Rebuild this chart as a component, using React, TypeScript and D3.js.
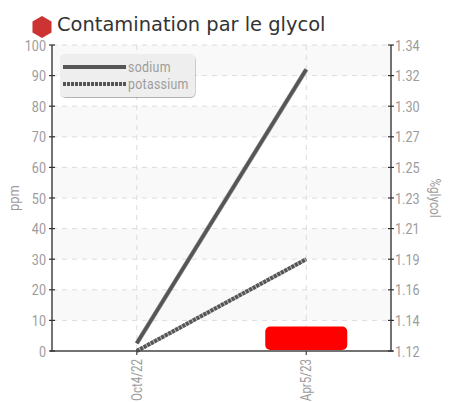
import React from "react";
import * as d3 from "d3";

const title = "Contamination par le glycol";
const dates = ["Oct4/22", "Apr5/23"];
const sodium = [2.5, 92];
const potassium = [0, 30];
const redBarTop = 8;
const redBarBottom = 0.3;
const leftTicks = [0, 10, 20, 30, 40, 50, 60, 70, 80, 90, 100];
const rightTicks = ["1.12", "1.14", "1.16", "1.19", "1.21", "1.23", "1.25", "1.27", "1.30", "1.32", "1.34"];
const yLabel = "ppm";
const y2Label = "%glycol";

const W = 458, H = 402;
const L = 52, R = 391, T = 45, B = 351;
const cf = "Roboto, sans-serif";
const tc = "#9c9c9c";

function Cond({ x, y, size, anchor, rotate, sx = 0.8, ls = 0, children }: any) {
  const t = rotate ? `translate(${x},${y}) rotate(${rotate}) scale(${sx},1)` : `translate(${x},${y}) scale(${sx},1)`;
  return <text transform={t} fontFamily={cf} fontSize={size} fill={tc} textAnchor={anchor} letterSpacing={ls}>{children}</text>;
}

export default function App() {
  const x = d3.scalePoint<string>().domain(dates).range([L, R]).padding(0.5);
  const y = d3.scaleLinear().domain([0, 100]).range([B, T]);
  const line = d3.line<number>().x((_, i) => x(dates[i])!).y(d => y(d));
  const bands = leftTicks.slice(0, -1).filter((_, i) => i % 2 === 1);
  const ax = x(dates[1])!;
  return (
    <svg width={W} height={H} style={{ position: "absolute", left: 0, top: 0 }}>
      <defs>
        <filter id="sh" x="-10%" y="-10%" width="120%" height="130%">
          <feDropShadow dx="0.6" dy="1" stdDeviation="0.6" floodColor="#000" floodOpacity="0.3" />
        </filter>
      </defs>
      <rect width={W} height={H} fill="#fff" />
      <polygon fill="#cc3333" points={d3.range(6).map(i => {
        const a = Math.PI / 3 * i - Math.PI / 2;
        return `${42 + 11 * Math.cos(a)},${27 + 11 * Math.sin(a)}`;
      }).join(" ")} />
      <text x={57} y={31} fontFamily="DejaVu Sans" fontSize={19.45} fill="#333">{title}</text>

      {bands.map(v => <rect key={v} x={L} y={y(v + 10)} width={R - L} height={y(v) - y(v + 10)} fill="#f9f9f9" />)}
      {leftTicks.slice(1).map(v => <line key={v} x1={L} x2={R} y1={y(v)} y2={y(v)} stroke="#dcdcdc" strokeWidth={1} strokeDasharray="5 5" />)}
      {dates.map(d => <line key={d} x1={x(d)} x2={x(d)} y1={T} y2={B} stroke="#dcdcdc" strokeWidth={1} strokeDasharray="5 5" />)}

      <rect x={ax - 41} width={82} y={y(redBarTop)} height={y(redBarBottom) - y(redBarTop)} rx={5} fill="#ff0000" />

      <path d={line(sodium)!} fill="none" stroke="#999" strokeWidth={4.6} />
      <path d={line(sodium)!} fill="none" stroke="#555" strokeWidth={3.4} />
      <path d={line(potassium)!} fill="none" stroke="#bbb" strokeWidth={4} />
      <path d={line(potassium)!} fill="none" stroke="#555" strokeWidth={4} strokeDasharray="3 1" />

      <line x1={L} x2={L} y1={T} y2={B} stroke="#444" strokeWidth={1.5} />
      <line x1={R} x2={R} y1={T} y2={B} stroke="#444" strokeWidth={1.5} />
      <line x1={L - 2} x2={R + 2} y1={B} y2={B} stroke="#444" strokeWidth={1.5} />
      {leftTicks.map(v => <line key={v} x1={L - 3} x2={L + 3} y1={y(v)} y2={y(v)} stroke="#333" strokeWidth={1.2} />)}
      {leftTicks.map((v, i) => <line key={i} x1={R - 3} x2={R + 3} y1={y(v)} y2={y(v)} stroke="#333" strokeWidth={1.2} />)}
      {dates.map(d => <line key={d} x1={x(d)} x2={x(d)} y1={B} y2={B + 4} stroke="#444" strokeWidth={1.2} />)}

      {leftTicks.map(v => <Cond key={v} x={46} y={y(v) + 5.5} size={15} sx={0.84} anchor="end">{v}</Cond>)}
      {rightTicks.map((s, i) => <Cond key={s} x={395} y={y(leftTicks[i]) + 5.5} size={15} sx={0.84} anchor="start">{s}</Cond>)}
      {dates.map(d => <Cond key={d} x={x(d)! + 5} y={B + 8} size={15} sx={0.77} anchor="end" rotate={-90}>{d}</Cond>)}
      <Cond x={19} y={198} size={14} sx={0.93} anchor="middle" rotate={-90}>{yLabel}</Cond>
      <Cond x={430} y={198} size={14} sx={0.84} anchor="middle" rotate={90}>{y2Label}</Cond>

      <rect x={60} y={54} width={135} height={43} rx={5} fill="#eeeeee" filter="url(#sh)" />
      <line x1={63} x2={126} y1={67} y2={67} stroke="#555" strokeWidth={4} />
      <line x1={63} x2={126} y1={84} y2={84} stroke="#555" strokeWidth={4} strokeDasharray="3 1" />
      <Cond x={128} y={72} size={14} sx={0.88} ls={0.35} anchor="start">sodium</Cond>
      <Cond x={128} y={89} size={14} sx={0.88} ls={0.35} anchor="start">potassium</Cond>
    </svg>
  );
}
